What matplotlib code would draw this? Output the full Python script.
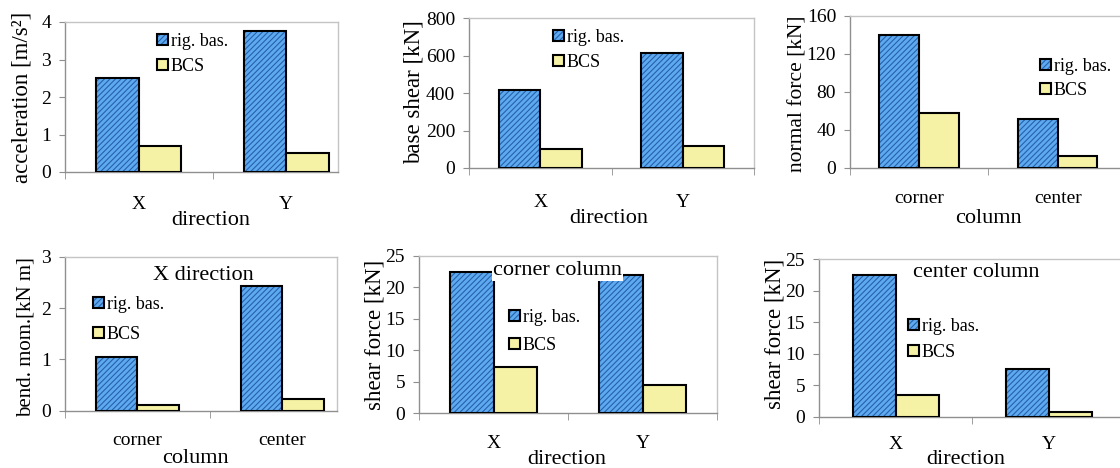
import numpy as np
import matplotlib
matplotlib.use("Agg")
import matplotlib.pyplot as plt
from matplotlib.patches import Patch

plt.rcParams['font.family'] = ['Liberation Serif', 'DejaVu Serif']
plt.rcParams['hatch.linewidth'] = 0.8

# ---------------- data ----------------
dir_labels = ['X', 'Y']
col_labels = ['corner', 'center']
series_names = ['rig. bas.', 'BCS']

acc_rig = [2.5, 3.75]
acc_bcs = [0.7, 0.5]
base_rig = [415, 615]
base_bcs = [100, 120]
normal_rig = [140, 51]
normal_bcs = [58, 13]
moment_rig = [1.05, 2.42]
moment_bcs = [0.11, 0.23]
corner_rig = [22.5, 22.0]
corner_bcs = [7.4, 4.5]
center_rig = [22.4, 7.6]
center_bcs = [3.4, 0.8]

# ---------------- style ----------------
W, H = 1120, 468
BLUE = '#5eaaf0'
HATCHC = '#2660ab'
YELLOW = '#f5f2a5'
SPINE_DARK = '#8f8f8f'
SPINE_LIGHT = '#c4c4c4'
TICK_FS = 14
LAB_FS = 16
LEG_FS = 13

fig = plt.figure(figsize=(W / 100, H / 100), dpi=100)
fig.patch.set_facecolor('white')


def fpos(x, y):
    return x / W, 1 - y / H


panels = [
    dict(rig=acc_rig, bcs=acc_bcs, cats=dir_labels, ylabel='acceleration [m/s²]',
         ymax=4, ystep=1, rect=(65, 338, 22, 172), xr=1.35, w=0.287,
         yl=(28, 97.5, 16.5), xl=('direction', 211, 225),
         leg=(157, 54, 24), title=None, xpad=17),
    dict(rig=base_rig, bcs=base_bcs, cats=dir_labels, ylabel='base shear [kN]',
         ymax=800, ystep=200, rect=(469, 754, 18, 168), xr=1.5, w=0.29,
         yl=(420, 91.7, 16.5), xl=('direction', 609, 223),
         leg=(553, 50, 24), title=None, xpad=18.5),
    dict(rig=normal_rig, bcs=normal_bcs, cats=col_labels, ylabel='normal force [kN]',
         ymax=160, ystep=40, rect=(850, 1122, 15.7, 168), xr=1.465, w=0.287,
         yl=(803, 94, 15.5), xl=('column', 988, 223),
         leg=(1040, 78.5, 23), title=None, xpad=16),
    dict(rig=moment_rig, bcs=moment_bcs, cats=col_labels, ylabel='bend. mom.[kN m]',
         ymax=3, ystep=1, rect=(65, 337, 256.7, 410.7), xr=1.376, w=0.287,
         yl=(30.7, 337.5, 15), xl=('column', 195, 463),
         leg=(93, 319.5, 29), title=('X direction', 203, 280, False), xpad=15.5),
    dict(rig=corner_rig, bcs=corner_bcs, cats=dir_labels, ylabel='shear force [kN]',
         ymax=25, ystep=5, rect=(419, 717, 256, 413.3), xr=1.5, w=0.29,
         yl=(381, 335, 16.5), xl=('direction', 567, 464),
         leg=(509, 331.5, 27), title=('corner column', 557.5, 275, True), xpad=15.5),
    dict(rig=center_rig, bcs=center_bcs, cats=dir_labels, ylabel='shear force [kN]',
         ymax=25, ystep=5, rect=(819, 1122, 259, 416.7), xr=1.475, w=0.28,
         yl=(780, 334, 16.5), xl=('direction', 965.5, 464),
         leg=(908, 339.5, 25), title=('center column', 976.7, 277, False), xpad=14),
]

for p in panels:
    l, r, t, b = p['rect']
    ax = fig.add_axes([l / W, 1 - b / H, (r - l) / W, (b - t) / H])
    x = np.arange(len(p['cats']))
    w = p['w']
    ax.bar(x - w / 2, p['rig'], w, color=BLUE, edgecolor=HATCHC, hatch='//////',
           linewidth=0, zorder=2)
    ax.bar(x - w / 2, p['rig'], w, fill=False, edgecolor='black', linewidth=1.5, zorder=3)
    ax.bar(x + w / 2, p['bcs'], w, color=YELLOW, edgecolor='black', linewidth=1.5, zorder=3)

    ax.set_xlim(-0.5, p['xr'])
    ax.set_ylim(0, p['ymax'])
    ax.set_yticks(np.arange(0, p['ymax'] + p['ystep'] / 2, p['ystep']))
    ax.set_xticks(x)
    ax.set_xticklabels(p['cats'])
    ax.set_xticks(np.arange(-0.5, p['xr'] + 0.01, 1.0), minor=True)
    ax.tick_params(axis='x', which='major', length=0, pad=p['xpad'], labelsize=TICK_FS)
    ax.tick_params(axis='x', which='minor', length=5, direction='out', color=SPINE_DARK)
    ax.tick_params(axis='y', which='major', length=4, direction='out', color=SPINE_DARK,
                   pad=6, labelsize=TICK_FS)
    for s in ('left', 'bottom'):
        ax.spines[s].set_color(SPINE_DARK)
        ax.spines[s].set_linewidth(1.0)
    for s in ('top', 'right'):
        ax.spines[s].set_color(SPINE_LIGHT)
        ax.spines[s].set_linewidth(1.0)
    ax.set_facecolor('white')

    yx, yy, ys = p['yl']
    fig.text(*fpos(yx, yy), p['ylabel'], rotation=90, rotation_mode='anchor',
             ha='center', va='baseline', fontsize=ys)
    xt, xx, xy = p['xl']
    fig.text(*fpos(xx, xy), xt, ha='center', va='baseline', fontsize=LAB_FS)

    if p['title']:
        tt, tx, ty, boxed = p['title']
        kw = {}
        if boxed:
            kw['bbox'] = dict(facecolor='white', edgecolor='none', pad=1.0)
        ax.text(tx / W, 1 - ty / H, tt, transform=fig.transFigure, ha='center',
                va='baseline', fontsize=16, zorder=5, **kw)

    lx, lmid, lsp = p['leg']
    h_rig = (Patch(facecolor=BLUE, edgecolor=HATCHC, hatch='//////', linewidth=0),
             Patch(facecolor='none', edgecolor='black', linewidth=1.5))
    h_bcs = Patch(facecolor=YELLOW, edgecolor='black', linewidth=1.5)
    fs_px = LEG_FS * 100 / 72
    rowh = 0.9 * fs_px
    leg = ax.legend([h_rig, h_bcs], series_names, loc='center left',
                    bbox_to_anchor=fpos(lx, lmid), bbox_transform=fig.transFigure,
                    frameon=False, borderpad=0, borderaxespad=0,
                    handlelength=0.6, handleheight=0.6, handletextpad=0.15,
                    labelspacing=max(0.0, (lsp - rowh) / fs_px), fontsize=LEG_FS)
    leg.set_zorder(6)

fig.savefig('out.png', dpi=100, facecolor='white')
